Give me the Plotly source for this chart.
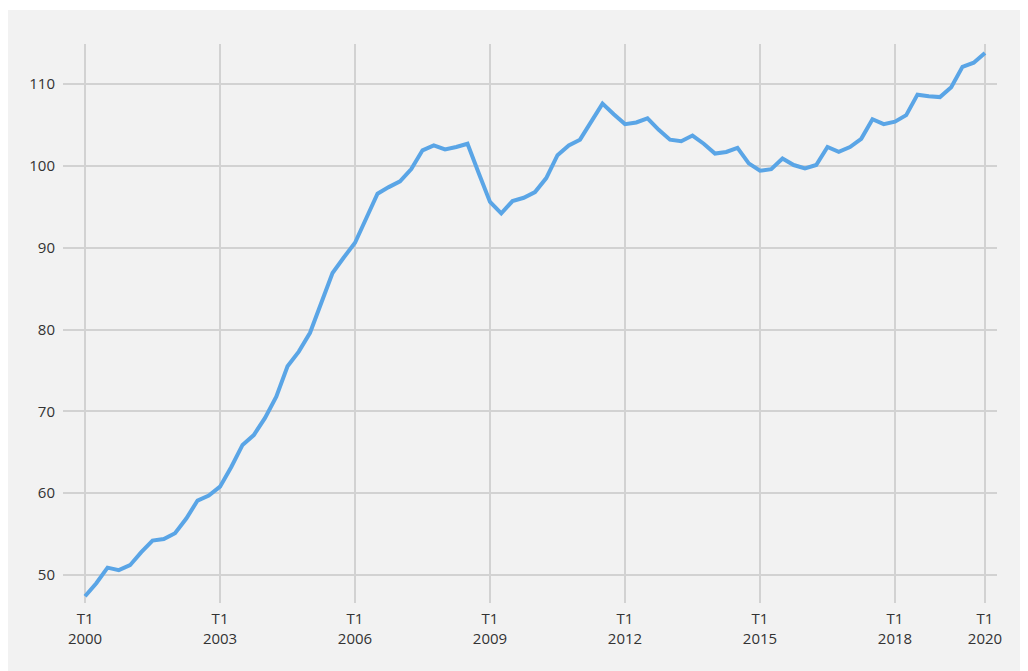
import plotly.graph_objects as go

# Quarterly index, T1 2000 .. T1 2020
quarters = list(range(81))
values = [
    47.4, 49.0, 50.9, 50.6, 51.2, 52.8, 54.2, 54.4, 55.1, 56.9,
    59.1, 59.7, 60.8, 63.2, 65.9, 67.1, 69.2, 71.8, 75.5, 77.3,
    79.6, 83.3, 86.9, 88.8, 90.6, 93.6, 96.6, 97.4, 98.1, 99.6,
    101.9, 102.5, 102.0, 102.3, 102.7, 99.1, 95.6, 94.2, 95.7, 96.1,
    96.8, 98.5, 101.3, 102.5, 103.2, 105.4, 107.6, 106.3, 105.1, 105.3,
    105.8, 104.4, 103.2, 103.0, 103.7, 102.7, 101.5, 101.7, 102.2, 100.3,
    99.4, 99.6, 100.9, 100.1, 99.7, 100.1, 102.3, 101.7, 102.3, 103.3,
    105.7, 105.1, 105.4, 106.2, 108.7, 108.5, 108.4, 109.6, 112.1, 112.6,
    113.8,
]
x_tick_vals = [0, 12, 24, 36, 48, 60, 72, 80]
x_tick_text = ["T1<br>2000", "T1<br>2003", "T1<br>2006", "T1<br>2009",
               "T1<br>2012", "T1<br>2015", "T1<br>2018", "T1<br>2020"]
y_tick_vals = [50, 60, 70, 80, 90, 100, 110]

fig = go.Figure()
fig.add_trace(go.Scatter(
    x=quarters, y=values, mode="lines",
    line=dict(color="#5aa5e6", width=4),
    hoverinfo="skip",
))

fig.update_layout(
    width=1020, height=663,
    margin=dict(l=55, r=31, t=36, b=68),
    paper_bgcolor="white",
    plot_bgcolor="rgba(0,0,0,0)",
    showlegend=False,
    font=dict(family="Open Sans", size=15, color="#333333"),
    shapes=[dict(
        type="rect", xref="paper", yref="paper",
        x0=-0.07, x1=1.05, y0=-0.13, y1=1.061,
        fillcolor="#f2f2f2", line=dict(width=0), layer="below",
    )],
)
fig.update_xaxes(
    range=[-1.96, 81.07],
    tickmode="array", tickvals=x_tick_vals, ticktext=x_tick_text,
    showgrid=True, gridcolor="#d2d2d2", gridwidth=2,
    zeroline=False, showline=False, ticks="",
    ticklabelstandoff=5,
)
fig.update_yaxes(
    range=[46.58, 114.89],
    tickmode="array", tickvals=y_tick_vals,
    showgrid=True, gridcolor="#d2d2d2", gridwidth=2,
    zeroline=False, showline=False, ticks="",
    ticklabelstandoff=7,
)

fig.write_html("out.html")
